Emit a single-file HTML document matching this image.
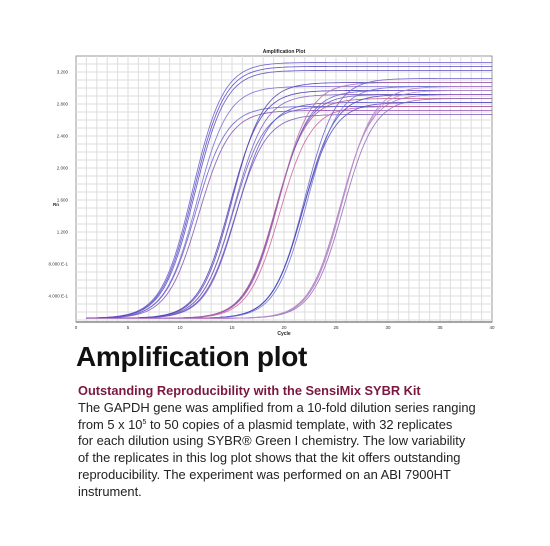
<!DOCTYPE html>
<html><head><meta charset="utf-8"><style>
body{margin:0;width:550px;height:546px;background:#fff;font-family:"Liberation Sans",sans-serif;overflow:hidden;position:relative}
#chart{position:absolute;left:0;top:0}
.h1{position:absolute;left:76px;top:340px;font-size:28px;line-height:34px;font-weight:bold;color:#111;letter-spacing:-0.3px}
.h2{position:absolute;left:78px;top:383px;font-size:12.8px;line-height:16px;font-weight:bold;color:#7a1840}
.body{position:absolute;left:78px;top:400px;width:460px;font-size:12.9px;line-height:16.7px;color:#222;white-space:nowrap}
sup{font-size:7px;line-height:0;vertical-align:5px}
</style></head><body>
<svg id="chart" width="550" height="340"></svg>
<div class="h1">Amplification plot</div>
<div class="h2">Outstanding Reproducibility with the SensiMix SYBR Kit</div>
<div class="body">The GAPDH gene was amplified from a 10-fold dilution series ranging<br>from 5 x 10<sup>5</sup> to 50 copies of a plasmid template, with 32 replicates<br>for each dilution using SYBR® Green I chemistry. The low variability<br>of the replicates in this log plot shows that the kit offers outstanding<br>reproducibility. The experiment was performed on an ABI 7900HT<br>instrument.</div>
<script>
const xTicks=[0,5,10,15,20,25,30,35,40];
const yTicks=[0.4,0.8,1.2,1.6,2.0,2.4,2.8,3.2];
const yTickLabels=["4.000 E-1","8.000 E-1","1.200","1.600","2.000","2.400","2.800","3.200"];
const midpoints=[[11.2,11.4,11.6,11.8,11.5,11.3],[14.8,15.1,15.3,15.5,15.2,15.0],[19.2,19.4,19.6,19.3,19.5],[21.8,22.0,21.9,22.2],[25.4,25.6,25.7,25.5]];
const plateaus=[[3.20,3.10,2.90,2.60,2.65,3.15],[2.85,2.65,2.55,2.70,2.80,2.95],[2.75,2.85,2.65,2.80,2.95],[2.70,3.00,2.80,2.90],[2.80,2.90,2.75,2.85]];
const groupColors=[["#6a5acd","#5a4fc0","#7b68d8","#8a4fb0","#6060cc","#5548c8"],["#4a3ab0","#6a5acd","#7a50b8","#5b55c8","#8060c0","#4f45b5"],["#c0508a","#7a5acd","#d0609a","#6a5ac0","#b86aa0"],["#5050c0","#6a60d0","#4848b8","#7070d8"],["#a070c0","#b080c8","#9068b8","#c090c8"]];
const svg=document.getElementById('chart');const NS="http://www.w3.org/2000/svg";
const X0=76,X1=492,Y0=56,Yaxis=322;
const sx=c=>X0+(c-0)/(40-0)*(X1-X0);
const sy=v=>328-v*80;
function el(t,a,txt){const e=document.createElementNS(NS,t);for(const k in a)e.setAttribute(k,a[k]);if(txt!==undefined)e.textContent=txt;svg.appendChild(e);return e;}
let e=el('rect',{x:X0,y:Y0,width:X1-X0,height:Yaxis-Y0,fill:'#fff',stroke:'#999','stroke-width':1});

for(let c=1;c<40;c++){e=el('line',{x1:sx(c),x2:sx(c),y1:Y0,y2:Yaxis,stroke:'#ddd','stroke-width':1});
}
for(let v=0.1;v<3.4;v+=0.1){const y=sy(v);if(y<Y0||y>Yaxis)continue;e=el('line',{x1:X0,x2:X1,y1:y,y2:y,stroke:'#ddd','stroke-width':1});
}
e=el('line',{x1:X0,x2:X1,y1:Yaxis,y2:Yaxis,stroke:'#888','stroke-width':1.5});

xTicks.forEach(t=>{e=el('text',{x:sx(t),y:Yaxis+7,'font-size':4.5,'text-anchor':'middle',fill:'#333'},String(t));
});
yTicks.forEach((t,i)=>{e=el('text',{x:X0-8,y:sy(t)+1.5,'font-size':4.5,'text-anchor':'end',fill:'#333'},yTickLabels[i]);
});
e=el('text',{x:284,y:53,'font-size':5,'font-weight':'bold','text-anchor':'middle',fill:'#222'},'Amplification Plot');

e=el('text',{x:284,y:335,'font-size':5,'font-weight':'bold','text-anchor':'middle',fill:'#222'},'Cycle');

e=el('text',{x:56,y:206,'font-size':4.5,'font-weight':'bold','text-anchor':'middle',fill:'#222'},'Rn');

midpoints.forEach((g,gi)=>g.forEach((m,ri)=>{const P=plateaus[gi][ri];let d='';
for(let c=1;c<=40;c+=0.25){const v=0.12+P/(1+Math.exp(-(c-m)/1.5));d+=(d?'L':'M')+sx(c).toFixed(1)+','+sy(v).toFixed(1);}
e=el('path',{d:d,fill:'none',stroke:groupColors[gi][ri],'stroke-width':0.9,opacity:0.85});
}));
</script>
</body></html>
